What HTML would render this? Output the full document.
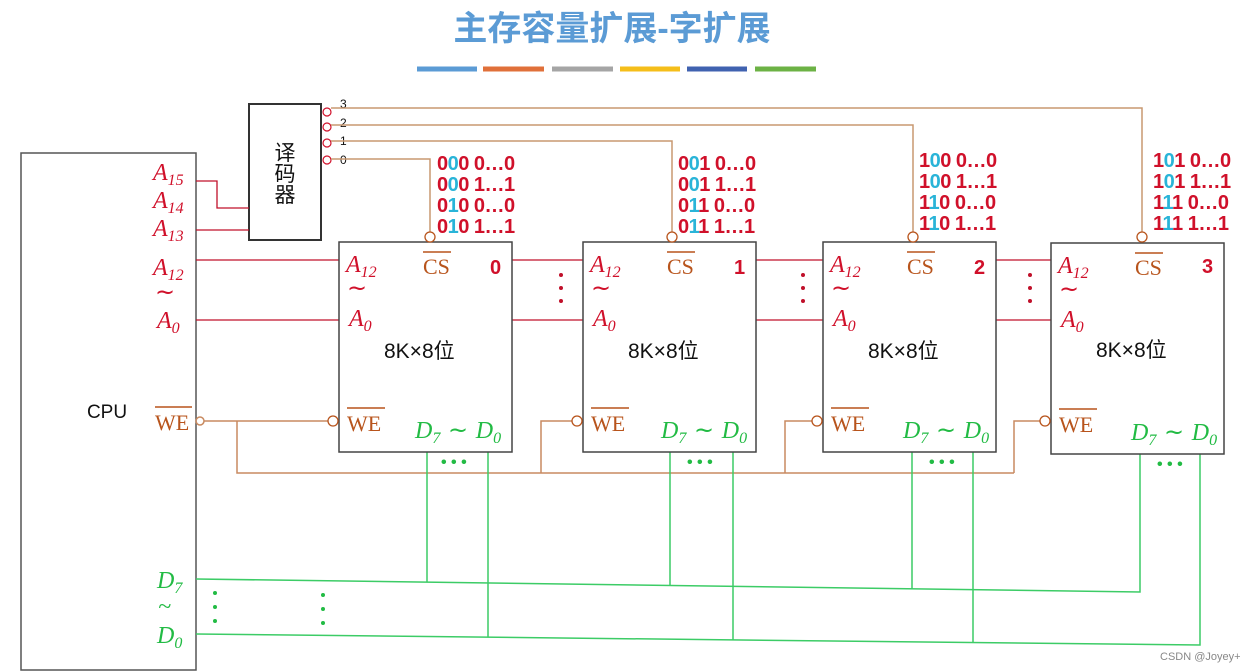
<!DOCTYPE html>
<html><head><meta charset="utf-8"><style>
html,body{margin:0;padding:0;background:#fff}
svg{display:block}
.a{font-family:"Liberation Serif",serif;font-style:italic;fill:#d0102a;font-size:24px}
.s{font-size:16px}
.t{font-family:"DejaVu Sans",sans-serif;font-style:normal;font-size:24px}
.b{font-family:"Liberation Sans",sans-serif;font-size:20px;fill:#d0102a;font-weight:bold;letter-spacing:-0.5px}
.bl{fill:#29b4d8}
.cs{font-family:"Liberation Serif",serif;fill:#b8541c;font-size:22px}
.g{font-family:"Liberation Serif",serif;font-style:italic;fill:#22bb44;font-size:24px}
.k{font-family:"Liberation Sans","Noto Sans CJK SC",sans-serif;font-size:21px;fill:#111}
</style></head><body>
<svg width="1252" height="671" viewBox="0 0 1252 671" xmlns="http://www.w3.org/2000/svg">
<text x="612" y="40" text-anchor="middle" font-family="Liberation Sans,Noto Sans CJK SC,sans-serif" font-size="34" font-weight="bold" fill="#5b9bd5">主存容量扩展-字扩展</text>
<g stroke-width="5">
<line x1="417" y1="69" x2="477" y2="69" stroke="#5b9bd5"/>
<line x1="483" y1="69" x2="544" y2="69" stroke="#e0703a"/>
<line x1="552" y1="69" x2="613" y2="69" stroke="#a5a5a5"/>
<line x1="620" y1="69" x2="680" y2="69" stroke="#f5be1a"/>
<line x1="687" y1="69" x2="747" y2="69" stroke="#4062b0"/>
<line x1="755" y1="69" x2="816" y2="69" stroke="#6cb245"/>
</g>
<rect x="21" y="153" width="175" height="517" fill="none" stroke="#555" stroke-width="1.5"/>
<text x="107" y="418" font-family="Liberation Sans,sans-serif" font-size="19" fill="#111" text-anchor="middle">CPU</text>
<rect x="249" y="104" width="72" height="136" fill="none" stroke="#333" stroke-width="2"/>
<text x="285" y="160" class="k" font-size="16" text-anchor="middle">译</text>
<text x="285" y="181" class="k" font-size="16" text-anchor="middle">码</text>
<text x="285" y="202" class="k" font-size="16" text-anchor="middle">器</text>
<g fill="none" stroke="#d0102a" stroke-width="1.2">
<circle cx="327" cy="112" r="4"/><circle cx="327" cy="127" r="4"/><circle cx="327" cy="143" r="4"/><circle cx="327" cy="160" r="4"/>
</g>
<g font-family="Liberation Sans,sans-serif" font-size="12" fill="#111">
<text x="340" y="108">3</text><text x="340" y="127">2</text><text x="340" y="145">1</text><text x="340" y="164">0</text>
</g>
<g fill="none" stroke="#c89870" stroke-width="1.5">
<polyline points="331,108 1142,108 1142,233"/>
<polyline points="331,125 913,125 913,233"/>
<polyline points="331,141 672,141 672,233"/>
<polyline points="331,159 430,159 430,233"/>
</g>
<g stroke="#c0102a" stroke-width="1.3" fill="none">
<polyline points="196,181 217,181 217,208 249,208"/>
<line x1="196" y1="230" x2="249" y2="230"/>
<line x1="196" y1="260" x2="339" y2="260"/>
<line x1="196" y1="320" x2="339" y2="320"/>
<line x1="512" y1="260" x2="583" y2="260"/>
<line x1="512" y1="320" x2="583" y2="320"/>
<line x1="756" y1="260" x2="823" y2="260"/>
<line x1="756" y1="320" x2="823" y2="320"/>
<line x1="996" y1="260" x2="1051" y2="260"/>
<line x1="996" y1="320" x2="1051" y2="320"/>
</g>
<g fill="#c0102a">
<circle cx="561" cy="275" r="2"/><circle cx="561" cy="288" r="2"/><circle cx="561" cy="301" r="2"/>
<circle cx="803" cy="275" r="2"/><circle cx="803" cy="288" r="2"/><circle cx="803" cy="301" r="2"/>
<circle cx="1030" cy="275" r="2"/><circle cx="1030" cy="288" r="2"/><circle cx="1030" cy="301" r="2"/>
</g>
<text class="a" x="153" y="180">A<tspan class="s" dy="5">15</tspan></text>
<text class="a" x="153" y="208">A<tspan class="s" dy="5">14</tspan></text>
<text class="a" x="153" y="236">A<tspan class="s" dy="5">13</tspan></text>
<text class="a" x="153" y="275">A<tspan class="s" dy="5">12</tspan></text>
<text class="a t" x="155" y="300">~</text>
<text class="a" x="157" y="328">A<tspan class="s" dy="5">0</tspan></text>
<text class="cs" x="155" y="430">WE</text><line x1="155" y1="407" x2="192" y2="407" stroke="#b8541c" stroke-width="1.5"/>
<text class="g" x="157" y="588">D<tspan class="s" dy="5">7</tspan></text>
<text class="g t" x="158" y="614">~</text>
<text class="g" x="157" y="643">D<tspan class="s" dy="5">0</tspan></text>
<g fill="none" stroke="#c88a60" stroke-width="1.5">
<circle cx="200" cy="421" r="4"/>
<line x1="204" y1="421" x2="329" y2="421"/>
<polyline points="237,421 237,473 1014,473"/>
<polyline points="541,473 541,421 579,421"/>
<polyline points="785,473 785,421 819,421"/>
<polyline points="1014,473 1014,421 1047,421"/>
</g>
<g fill="none" stroke="#3ccc66" stroke-width="1.5">
<polyline points="196,579 1140,592 1140,452"/>
<polyline points="196,634 1200,645 1200,452"/>
<line x1="427" y1="452" x2="427" y2="582"/>
<line x1="488" y1="452" x2="488" y2="637"/>
<line x1="670" y1="452" x2="670" y2="585"/>
<line x1="733" y1="452" x2="733" y2="640"/>
<line x1="912" y1="452" x2="912" y2="589"/>
<line x1="973" y1="452" x2="973" y2="643"/>
</g>
<g fill="#22bb44">
<circle cx="215" cy="593" r="2"/><circle cx="215" cy="607" r="2"/><circle cx="215" cy="621" r="2"/>
<circle cx="323" cy="595" r="2"/><circle cx="323" cy="609" r="2"/><circle cx="323" cy="623" r="2"/>
</g>
<g transform="translate(339,242)">
<rect x="0" y="0" width="173" height="210" fill="#fff" stroke="#444" stroke-width="1.5"/>
<text class="a" x="7" y="30">A<tspan class="s" dy="5">12</tspan></text>
<text class="a t" x="8" y="54">~</text>
<text class="a" x="10" y="84">A<tspan class="s" dy="5">0</tspan></text>
<text class="cs" x="84" y="32" font-size="23">CS</text><line x1="84" y1="10" x2="112" y2="10" stroke="#b8541c" stroke-width="1.5"/>
<text x="151" y="32" font-family="Liberation Sans,sans-serif" font-size="20" fill="#d0102a" font-weight="bold">0</text>
<text class="k" x="45" y="116">8K×8位</text>
<text class="cs" x="8" y="189" font-size="23">WE</text><line x1="8" y1="166" x2="46" y2="166" stroke="#b8541c" stroke-width="1.5"/>
<text class="g" x="76" y="196">D<tspan class="s" dy="5">7</tspan><tspan dy="-5" class="t"> ~ </tspan>D<tspan class="s" dy="5">0</tspan></text>
<circle cx="91" cy="-5" r="5" fill="#fff" stroke="#b8541c" stroke-width="1.3"/>
<circle cx="-6" cy="179" r="5" fill="#fff" stroke="#b8541c" stroke-width="1.3"/>
<text x="102" y="225" font-family="Liberation Sans,sans-serif" font-size="16" fill="#22bb44" font-weight="bold">• • •</text>
</g>
<g transform="translate(583,242)">
<rect x="0" y="0" width="173" height="210" fill="#fff" stroke="#444" stroke-width="1.5"/>
<text class="a" x="7" y="30">A<tspan class="s" dy="5">12</tspan></text>
<text class="a t" x="8" y="54">~</text>
<text class="a" x="10" y="84">A<tspan class="s" dy="5">0</tspan></text>
<text class="cs" x="84" y="32" font-size="23">CS</text><line x1="84" y1="10" x2="112" y2="10" stroke="#b8541c" stroke-width="1.5"/>
<text x="151" y="32" font-family="Liberation Sans,sans-serif" font-size="20" fill="#d0102a" font-weight="bold">1</text>
<text class="k" x="45" y="116">8K×8位</text>
<text class="cs" x="8" y="189" font-size="23">WE</text><line x1="8" y1="166" x2="46" y2="166" stroke="#b8541c" stroke-width="1.5"/>
<text class="g" x="78" y="196">D<tspan class="s" dy="5">7</tspan><tspan dy="-5" class="t"> ~ </tspan>D<tspan class="s" dy="5">0</tspan></text>
<circle cx="89" cy="-5" r="5" fill="#fff" stroke="#b8541c" stroke-width="1.3"/>
<circle cx="-6" cy="179" r="5" fill="#fff" stroke="#b8541c" stroke-width="1.3"/>
<text x="104" y="225" font-family="Liberation Sans,sans-serif" font-size="16" fill="#22bb44" font-weight="bold">• • •</text>
</g>
<g transform="translate(823,242)">
<rect x="0" y="0" width="173" height="210" fill="#fff" stroke="#444" stroke-width="1.5"/>
<text class="a" x="7" y="30">A<tspan class="s" dy="5">12</tspan></text>
<text class="a t" x="8" y="54">~</text>
<text class="a" x="10" y="84">A<tspan class="s" dy="5">0</tspan></text>
<text class="cs" x="84" y="32" font-size="23">CS</text><line x1="84" y1="10" x2="112" y2="10" stroke="#b8541c" stroke-width="1.5"/>
<text x="151" y="32" font-family="Liberation Sans,sans-serif" font-size="20" fill="#d0102a" font-weight="bold">2</text>
<text class="k" x="45" y="116">8K×8位</text>
<text class="cs" x="8" y="189" font-size="23">WE</text><line x1="8" y1="166" x2="46" y2="166" stroke="#b8541c" stroke-width="1.5"/>
<text class="g" x="80" y="196">D<tspan class="s" dy="5">7</tspan><tspan dy="-5" class="t"> ~ </tspan>D<tspan class="s" dy="5">0</tspan></text>
<circle cx="90" cy="-5" r="5" fill="#fff" stroke="#b8541c" stroke-width="1.3"/>
<circle cx="-6" cy="179" r="5" fill="#fff" stroke="#b8541c" stroke-width="1.3"/>
<text x="106" y="225" font-family="Liberation Sans,sans-serif" font-size="16" fill="#22bb44" font-weight="bold">• • •</text>
</g>
<g transform="translate(1051,243)">
<rect x="0" y="0" width="173" height="211" fill="#fff" stroke="#444" stroke-width="1.5"/>
<text class="a" x="7" y="30">A<tspan class="s" dy="5">12</tspan></text>
<text class="a t" x="8" y="54">~</text>
<text class="a" x="10" y="84">A<tspan class="s" dy="5">0</tspan></text>
<text class="cs" x="84" y="32" font-size="23">CS</text><line x1="84" y1="10" x2="112" y2="10" stroke="#b8541c" stroke-width="1.5"/>
<text x="151" y="30" font-family="Liberation Sans,sans-serif" font-size="20" fill="#d0102a" font-weight="bold">3</text>
<text class="k" x="45" y="114">8K×8位</text>
<text class="cs" x="8" y="189" font-size="23">WE</text><line x1="8" y1="166" x2="46" y2="166" stroke="#b8541c" stroke-width="1.5"/>
<text class="g" x="80" y="197">D<tspan class="s" dy="5">7</tspan><tspan dy="-5" class="t"> ~ </tspan>D<tspan class="s" dy="5">0</tspan></text>
<circle cx="91" cy="-6" r="5" fill="#fff" stroke="#b8541c" stroke-width="1.3"/>
<circle cx="-6" cy="178" r="5" fill="#fff" stroke="#b8541c" stroke-width="1.3"/>
<text x="106" y="226" font-family="Liberation Sans,sans-serif" font-size="16" fill="#22bb44" font-weight="bold">• • •</text>
</g>
<g>
<text class="b" x="437" y="170">0<tspan class="bl">0</tspan>0 0…0</text>
<text class="b" x="437" y="191">0<tspan class="bl">0</tspan>0 1…1</text>
<text class="b" x="437" y="212">0<tspan class="bl">1</tspan>0 0…0</text>
<text class="b" x="437" y="233">0<tspan class="bl">1</tspan>0 1…1</text>
<text class="b" x="678" y="170">0<tspan class="bl">0</tspan>1 0…0</text>
<text class="b" x="678" y="191">0<tspan class="bl">0</tspan>1 1…1</text>
<text class="b" x="678" y="212">0<tspan class="bl">1</tspan>1 0…0</text>
<text class="b" x="678" y="233">0<tspan class="bl">1</tspan>1 1…1</text>
<text class="b" x="919" y="167">1<tspan class="bl">0</tspan>0 0…0</text>
<text class="b" x="919" y="188">1<tspan class="bl">0</tspan>0 1…1</text>
<text class="b" x="919" y="209">1<tspan class="bl">1</tspan>0 0…0</text>
<text class="b" x="919" y="230">1<tspan class="bl">1</tspan>0 1…1</text>
<text class="b" x="1153" y="167">1<tspan class="bl">0</tspan>1 0…0</text>
<text class="b" x="1153" y="188">1<tspan class="bl">0</tspan>1 1…1</text>
<text class="b" x="1153" y="209">1<tspan class="bl">1</tspan>1 0…0</text>
<text class="b" x="1153" y="230">1<tspan class="bl">1</tspan>1 1…1</text>
</g>
<text x="1160" y="660" font-family="Liberation Sans,sans-serif" font-size="11" fill="#888">CSDN @Joyey+</text>
</svg>
</body></html>
